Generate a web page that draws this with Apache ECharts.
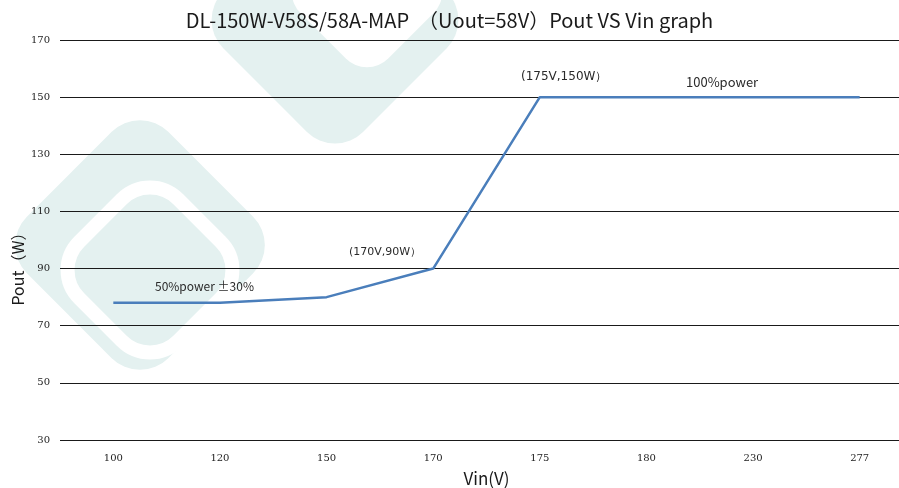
<!DOCTYPE html>
<html>
<head>
<meta charset="utf-8">
<script src="https://cdn.jsdelivr.net/npm/echarts@6/dist/echarts.min.js"></script>
<style>
  html, body { margin: 0; padding: 0; background: #fff; }
  #chart { width: 899px; height: 488px; }
</style>
</head>
<body>
<div id="chart"></div>
<script>
var vinLabels = ['100', '120', '150', '170', '175', '180', '230', '277'];
var poutValues = [78, 78, 80, 90, 150, 150, 150, 150];
var yTicks = { min: 30, max: 170, step: 20 };

var notes = [
    { text: '50%power ±30%', x: 155, y: 280, font: '12px "Noto Sans CJK SC", sans-serif' },
    { text: '(170V,90W）', x: 349, y: 247, font: '11px "DejaVu Sans", sans-serif' },
    { text: '(175V,150W）', x: 521, y: 71, font: '12px "DejaVu Sans", sans-serif' },
    { text: '100%power', x: 686, y: 76, font: '13px "Noto Sans CJK SC", sans-serif' }
];

var teal = '#e4f1f0';
var myChart = echarts.init(document.getElementById('chart'));

// watermark logo, roughly
var watermark = [
    { type: 'rect', x: 335, y: 20, originX: 0, originY: 0, rotation: Math.PI / 4,
      shape: { x: -99, y: -99, width: 198, height: 198, r: 40 }, style: { fill: teal }, z: -20 },
    { type: 'rect', x: 367, y: -8, originX: 0, originY: 0, rotation: Math.PI / 4,
      shape: { x: -62, y: -62, width: 124, height: 124, r: 30 }, style: { fill: '#fff' }, z: -19 },
    { type: 'rect', x: 140, y: 245, originX: 0, originY: 0, rotation: Math.PI / 4,
      shape: { x: -100, y: -100, width: 200, height: 200, r: 40 }, style: { fill: teal }, z: -20 },
    { type: 'rect', x: 150, y: 270, originX: 0, originY: 0, rotation: Math.PI / 4,
      shape: { x: -70, y: -70, width: 140, height: 140, r: 40 }, style: { fill: 'none', stroke: '#fff', lineWidth: 14 }, z: -19 }
];

var noteGraphics = notes.map(function (n) {
    return {
        type: 'text', left: n.x, top: n.y, z: 10,
        style: { text: n.text, fill: '#2a2a2a', font: n.font }
    };
});

var yName = {
    type: 'text', x: 10, y: 265, rotation: Math.PI / 2, z: 10,
    style: {
        text: 'Pout（W）', fill: '#1a1a1a', align: 'center', verticalAlign: 'top',
        font: '16px "Noto Sans CJK SC", sans-serif'
    }
};

var option = {
    backgroundColor: '#fff',
    title: {
        text: 'DL-150W-V58S/58A-MAP  （Uout=58V）Pout VS Vin graph',
        left: 'center',
        top: 5,
        textStyle: { fontFamily: '"Noto Sans CJK SC", sans-serif', fontSize: 20, fontWeight: 'normal', color: '#1a1a1a' }
    },
    grid: { left: 60, right: -14, top: 40, bottom: 48, outerBoundsMode: 'none', containLabel: false },
    graphic: watermark.concat(noteGraphics, [yName]),
    xAxis: {
        type: 'category',
        data: vinLabels,
        boundaryGap: true,
        name: 'Vin(V)',
        nameLocation: 'middle',
        nameGap: 30,
        nameTextStyle: { fontFamily: '"Noto Sans CJK SC", sans-serif', fontSize: 17, color: '#1a1a1a' },
        axisLine: { show: false },
        axisTick: { show: false },
        axisLabel: { margin: 13, fontFamily: '"DejaVu Serif", serif', fontSize: 10, color: '#222' }
    },
    yAxis: {
        type: 'value',
        min: yTicks.min,
        max: yTicks.max,
        interval: yTicks.step,
        axisLine: { show: false },
        axisTick: { show: false },
        axisLabel: { margin: 10, fontFamily: '"DejaVu Serif", serif', fontSize: 10, color: '#222' },
        splitLine: { lineStyle: { color: '#1a1a1a', width: 1 } }
    },
    series: [{
        type: 'line',
        data: poutValues,
        symbol: 'none',
        lineStyle: { color: '#4a7ebb', width: 2.5 },
        z: 5
    }]
};

myChart.setOption(option);
</script>
</body>
</html>
